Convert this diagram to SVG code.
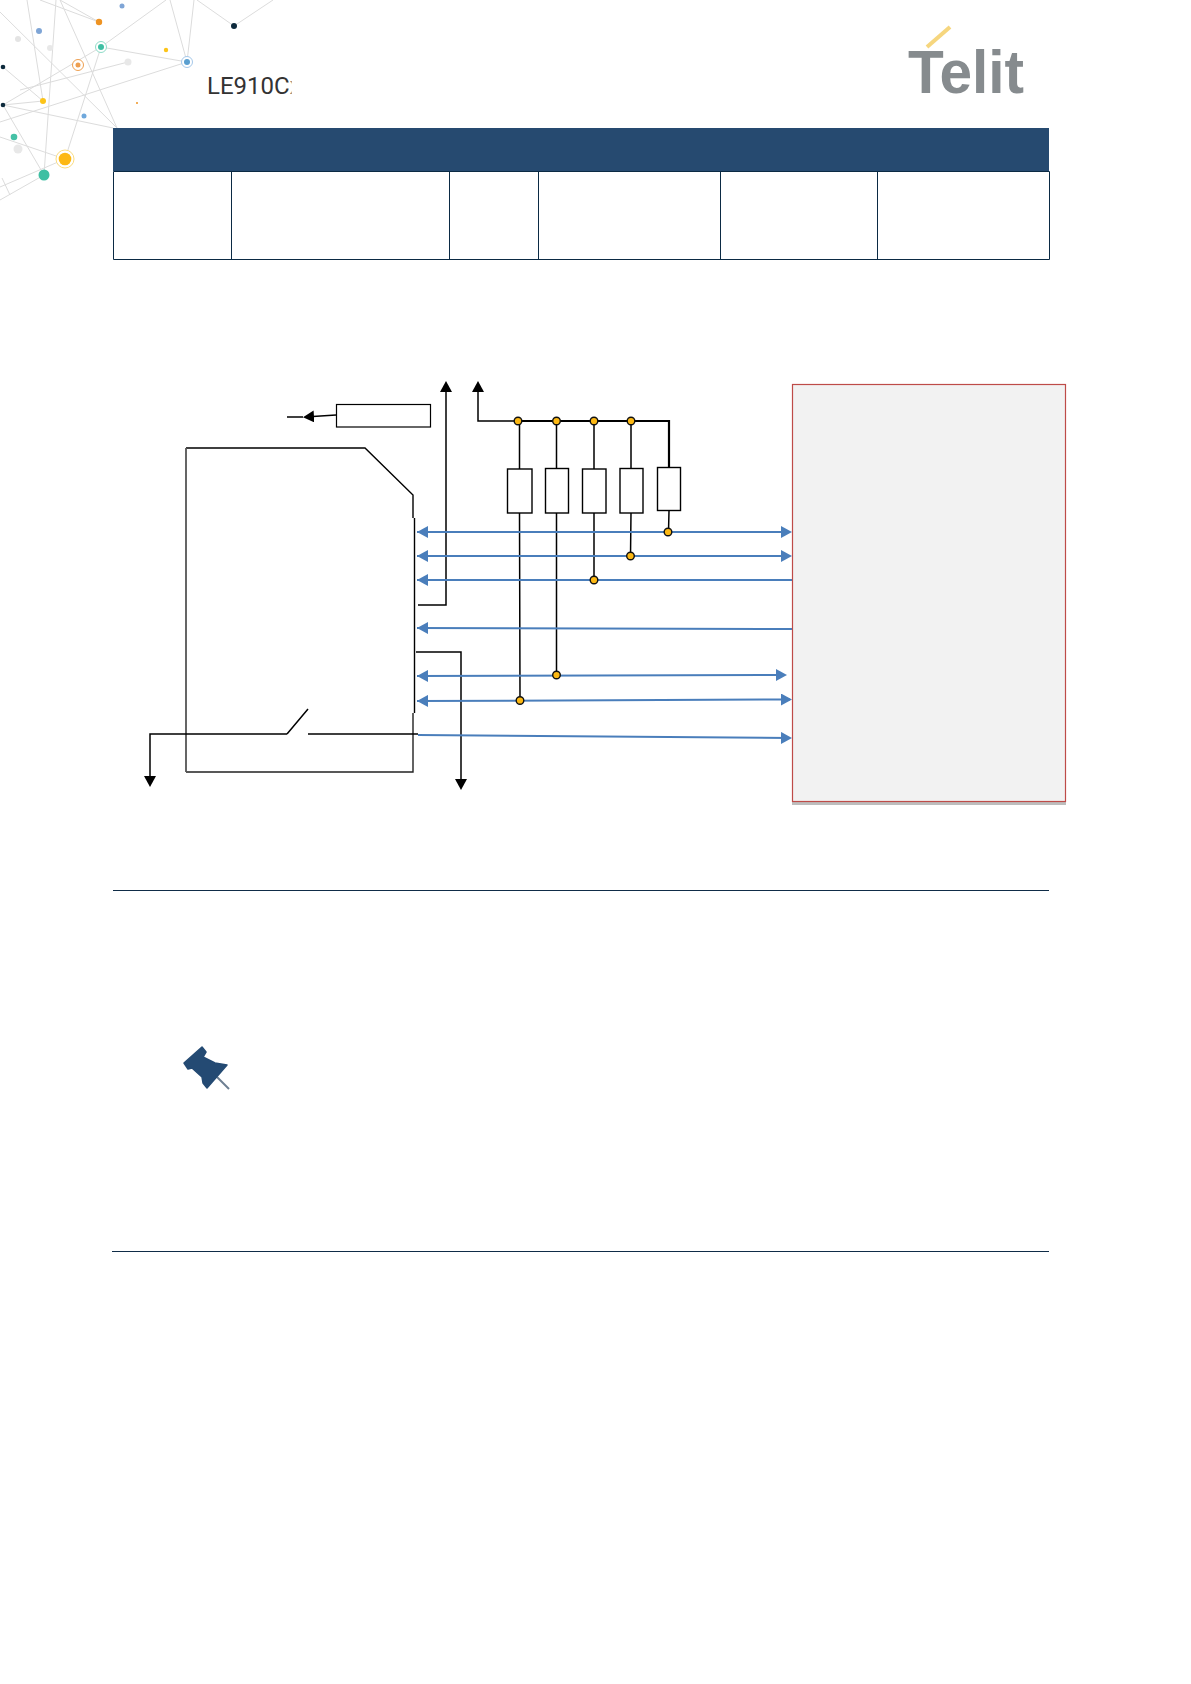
<svg xmlns="http://www.w3.org/2000/svg" width="1191" height="1684" viewBox="0 0 1191 1684">
<style>
.net{stroke:#dcdcdc;stroke-width:1;fill:none}
.k{stroke:#000;stroke-width:1.5;fill:none}
.b{stroke:#4a7ebb;stroke-width:2;fill:none}
.res{fill:#fff;stroke:#000;stroke-width:1.4}
.dot{fill:#fcb813;stroke:#111;stroke-width:1.4}
.cell{stroke:#0b2a44;stroke-width:1;fill:none}
.rule{stroke:#0f2c47;stroke-width:1;fill:none}
.ka{marker-end:url(#ah)}
.bs{marker-start:url(#bhs)}
.be{marker-end:url(#bh)}
</style>
<defs>
<marker id="ah" markerUnits="userSpaceOnUse" markerWidth="13" markerHeight="13" refX="9" refY="6" orient="auto"><path d="M0 0L11 6L0 12Z" fill="#000"/></marker>
<marker id="bh" markerUnits="userSpaceOnUse" markerWidth="13" markerHeight="13" refX="9" refY="6" orient="auto"><path d="M0 0L11 6L0 12Z" fill="#4a7ebb"/></marker>
<marker id="bhs" markerUnits="userSpaceOnUse" markerWidth="13" markerHeight="13" refX="0" refY="6" orient="auto"><path d="M11 0L0 6L11 12Z" fill="#4a7ebb"/></marker>
<clipPath id="titleclip"><rect x="200" y="70" width="91.500" height="30"/></clipPath>
</defs>
<rect width="1191" height="1684" fill="#fff"/>

<g id="background-network">
<path class="net" d="M99 22L40 0M99 22L60 0M101 47L3 105M101 47L166 0M101 47L187 62M187 62L170 0M187 62L194 0M187 62L0 122M234 26L197 0M234 26L273 0M101 47L65 159M43 101L27 0M44 175L56 0M60 0L117 128M0 12L117 128M3 67L43 101M3 105L43 101M3 105L113 128M3 105L44 175M0 137L65 159M65 159L0 187M44 175L0 200M2 178L10 195M128 62L20 90"/>
<circle cx="99" cy="22" r="3.200" fill="#ee9322"/>
<circle cx="122" cy="6" r="2.500" fill="#7fa5d6"/>
<circle cx="39" cy="31" r="3" fill="#7fa5d6"/>
<circle cx="18" cy="39" r="3" fill="#e4e4e4"/>
<circle cx="50" cy="48" r="3" fill="#e8e8e8"/>
<circle cx="128" cy="62" r="3.500" fill="#e8e8e8"/>
<circle cx="101" cy="47" r="5.500" fill="#fff" stroke="#8fdcc8"/>
<circle cx="101" cy="47" r="3" fill="#3fbfa3"/>
<circle cx="78" cy="65" r="5.500" fill="#fff" stroke="#ee9f50"/>
<circle cx="78" cy="65" r="2.500" fill="#ee9f50"/>
<circle cx="166" cy="50" r="2.200" fill="#fcc419"/>
<circle cx="187" cy="62" r="5.500" fill="#fff" stroke="#a5c8ea"/>
<circle cx="187" cy="62" r="3" fill="#5a9fd0"/>
<circle cx="234" cy="26" r="3" fill="#0d2a3c"/>
<circle cx="3" cy="67" r="2.300" fill="#0d2a3c"/>
<circle cx="3" cy="105" r="2.300" fill="#0d2a3c"/>
<circle cx="43" cy="101" r="3" fill="#fcc419"/>
<circle cx="137" cy="103" r="1" fill="#ee9322"/>
<circle cx="84" cy="116" r="2.500" fill="#6fa8dc"/>
<circle cx="14" cy="137" r="3.300" fill="#45c1a6"/>
<circle cx="18" cy="149" r="4.500" fill="#e8e8e8"/>
<circle cx="65" cy="159" r="9" fill="#fff" stroke="#fbdc80"/>
<circle cx="65" cy="159" r="6.300" fill="#fdb813"/>
<circle cx="44" cy="175" r="5.500" fill="#3fbfa3"/>
</g>

<g id="title"><text x="207" y="94" clip-path="url(#titleclip)" font-family="Roboto, 'Liberation Sans', sans-serif" font-size="24" fill="#333">LE910Cx</text></g>

<g id="logo">
<line x1="927" y1="47" x2="950" y2="27" stroke="#f6d67e" stroke-width="4"/>
<text x="908" y="93" font-family="'Liberation Sans', Arial, sans-serif" font-weight="700" font-size="61" fill="#868b8e" textLength="116" lengthAdjust="spacingAndGlyphs">Telit</text>
</g>

<g id="table">
<rect x="113" y="128" width="936" height="43" fill="#264a70"/>
<path class="cell" d="M113.500 171.500H1049.500V259.500H113.500ZM231.500 171.500V259.500M449.500 171.500V259.500M538.500 171.500V259.500M720.500 171.500V259.500M877.500 171.500V259.500"/>
</g>

<g id="host-box">
<rect x="792" y="386" width="274" height="419" fill="#bdbdbd"/>
<rect x="792.500" y="384.500" width="273" height="417" fill="#f2f2f2" stroke="#be4b48" stroke-width="1.200"/>
</g>

<g id="sim-card">
<path d="M186 448H365L413 495V518" fill="none" stroke="#000" stroke-width="1.400"/>
<path d="M414.500 518V713" fill="none" stroke="#000" stroke-width="1.400"/>
<path d="M413 713V772H186" fill="none" stroke="#222" stroke-width="1.400"/>
<path d="M186 772V448" fill="none" stroke="#555" stroke-width="1.800"/>
</g>

<g id="small-box"><rect x="336.500" y="404.500" width="94" height="22.500" fill="#fff" stroke="#000" stroke-width="1.200"/></g>
<g id="r1"><rect class="res" x="507.500" y="469" width="24.500" height="44"/></g>
<g id="r2"><rect class="res" x="545.500" y="468.500" width="23" height="44.500"/></g>
<g id="r3"><rect class="res" x="582.500" y="469" width="23.500" height="44"/></g>
<g id="r4"><rect class="res" x="620" y="468.500" width="23" height="44.500"/></g>
<g id="r5"><rect class="res" x="657.500" y="467.500" width="23" height="43"/></g>

<g id="connectors">
<path class="k" d="M336 415L305 417" marker-end="url(#ah)"/>
<path class="k" d="M303 417H287" stroke-width="2"/>
<path class="k ka" d="M418 605H446V383"/>
<path class="k ka" d="M518 421H478V383"/>
<path d="M518 421H669V467" fill="none" stroke="#000" stroke-width="2.200"/>
<path class="k" d="M519.500 421V469M556.500 421V468M594 421V469M631 421V468"/>
<path class="k" d="M519.500 513L520 700M556.500 513V675M594 513V580M631 513L630.500 556M669 511L668.500 532"/>
<path class="k ka" d="M416 652H461V788"/>
<path class="k ka" d="M287 734H150V785"/>
<path class="k" d="M287 734L308 709M308 734H418"/>
<path class="b bs be" d="M417 532H790"/>
<path class="b bs be" d="M417 556H790"/>
<path class="b bs" d="M417 580H792"/>
<path class="b bs" d="M417 628L792 629"/>
<path class="b bs be" d="M417 676L785 675"/>
<path class="b bs be" d="M417 701L790 699.500"/>
<path class="b be" d="M418 735L790 738"/>
</g>

<g id="junctions">
<circle class="dot" cx="518" cy="421" r="3.800"/>
<circle class="dot" cx="556.500" cy="421" r="3.800"/>
<circle class="dot" cx="594" cy="421" r="3.800"/>
<circle class="dot" cx="631" cy="421" r="3.800"/>
<circle class="dot" cx="668" cy="532" r="3.800"/>
<circle class="dot" cx="630.500" cy="556" r="3.800"/>
<circle class="dot" cx="594" cy="580" r="3.800"/>
<circle class="dot" cx="556.500" cy="675" r="3.800"/>
<circle class="dot" cx="520" cy="700.500" r="3.800"/>
</g>

<g id="rules">
<line class="rule" x1="113" y1="890.500" x2="1049" y2="890.500"/>
<line class="rule" x1="112" y1="1251.500" x2="1049" y2="1251.500"/>
</g>

<g id="pin-icon">
<path d="M217 1077L229 1089" stroke="#6d7f92" stroke-width="2" fill="none"/>
<path d="M184 1063L202 1047L206 1052L203 1057L215 1063L227 1065L207 1088L203 1083L202 1077L192 1068L188 1069Z" fill="#244a73" stroke="#244a73" stroke-width="1.500" stroke-linejoin="round"/>
</g>
</svg>
